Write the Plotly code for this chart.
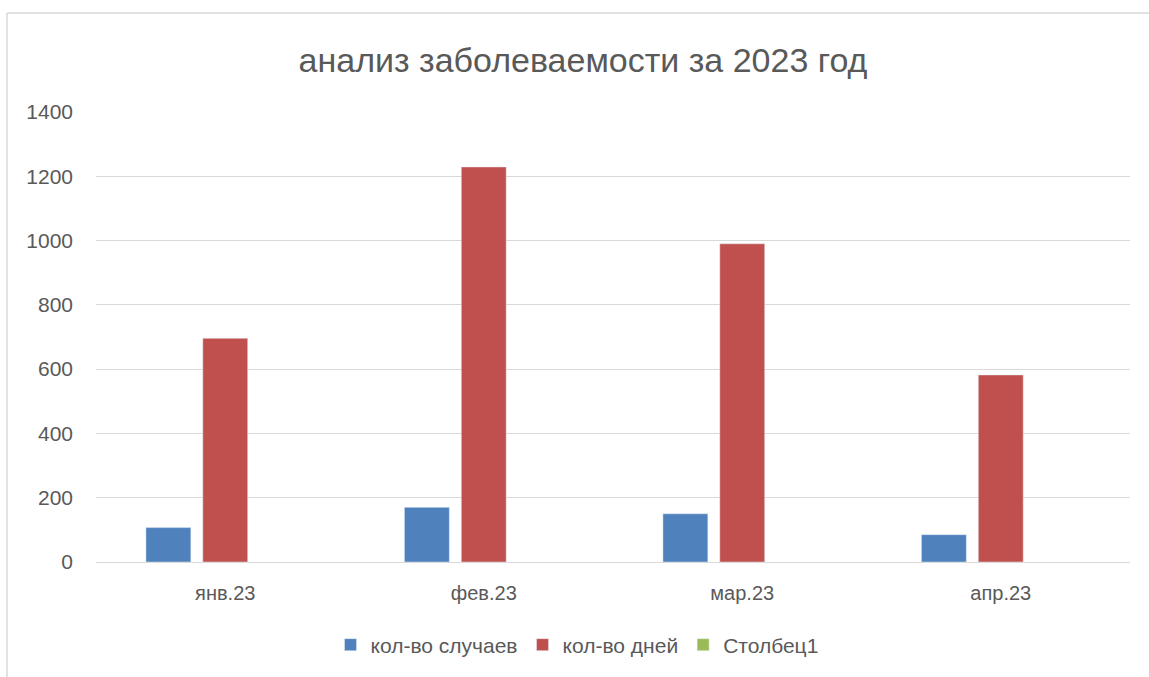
import plotly.graph_objects as go

categories = ["янв.23", "фев.23", "мар.23", "апр.23"]
cases = [107, 170, 150, 85]
days = [696, 1229, 990, 582]
col1 = [None, None, None, None]
y_ticks = [0, 200, 400, 600, 800, 1000, 1200, 1400]

FONT = "Liberation Sans"
GRAY = "#595959"

fig = go.Figure()
fig.add_trace(go.Bar(name="кол-во случаев", x=categories, y=cases, marker_color="#4F81BD"))
fig.add_trace(go.Bar(name="кол-во дней", x=categories, y=days, marker_color="#C0504D"))
fig.add_trace(go.Bar(name="Столбец1", x=categories, y=col1, marker_color="#9BBB59"))

W, H = 1149, 677
L, R, T, B = 96, 1130, 112, 562
pw = R - L
ph = B - T

def px_x(x):
    return (x - L) / pw

def px_y(y):
    return (B - y) / ph

fig.update_layout(
    width=W, height=H,
    margin=dict(l=L, r=W - R, t=T, b=H - B, autoexpand=False),
    paper_bgcolor="white", plot_bgcolor="white",
    barmode="group", bargap=0.34, bargroupgap=0.21,
    font=dict(family=FONT, color=GRAY),
    title=dict(text="анализ заболеваемости за 2023 год", x=583 / W, xanchor="center",
               y=1 - 60 / H, yanchor="middle", xref="container", yref="container",
               font=dict(size=34, color=GRAY, family=FONT)),
    legend=dict(orientation="h", xref="container", yref="container", x=577 / W, xanchor="center",
                y=1 - 645 / H, yanchor="middle", font=dict(size=21, color=GRAY, family=FONT),
                itemwidth=30, traceorder="normal"),
    showlegend=True,
    xaxis=dict(showgrid=False, showline=True, linecolor="#d9d9d9", linewidth=1,
               ticks="", tickfont=dict(size=20, color=GRAY), ticklabelstandoff=13),
    yaxis=dict(range=[0, 1400], tickvals=y_ticks, showgrid=True, gridcolor="#d9d9d9", gridwidth=1,
               zeroline=False, showline=False, ticks="", tickfont=dict(size=21, color=GRAY),
               ticklabelstandoff=22),
    shapes=[
        dict(type="line", xref="paper", yref="paper", x0=px_x(7), x1=px_x(7), y0=px_y(13), y1=px_y(700),
             line=dict(color="#d9d9d9", width=1.5)),
        dict(type="line", xref="paper", yref="paper", x0=px_x(7), x1=px_x(1160), y0=px_y(13), y1=px_y(13),
             line=dict(color="#d9d9d9", width=1.5)),
    ],
)

fig.write_html("out.html", config={"displayModeBar": False},
               post_script="document.body.style.margin='0';document.body.style.overflow='hidden';")
